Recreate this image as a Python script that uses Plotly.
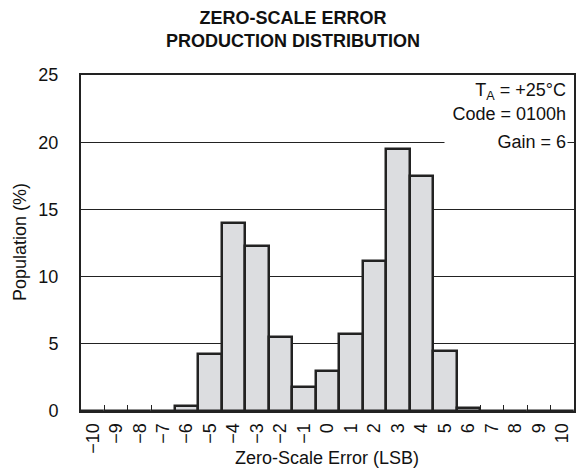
import plotly.graph_objects as go

errors = list(range(-10, 11))
population = [0, 0, 0, 0, 0.4, 4.25, 14.0, 12.3, 5.5, 1.75, 3.0, 5.75, 11.15, 19.5, 17.45, 4.5, 0.2, 0, 0, 0, 0]
tick_text = [("\u2212" + str(-v)) if v < 0 else str(v) for v in errors]
y_ticks = [0, 5, 10, 15, 20, 25]

FONT = "Liberation Sans, Arial, Helvetica, sans-serif"
INK = "#111111"
L, R, T, B = 81, 3, 75, 59
PW, PH = 577 - L - R, 470 - T - B


def px_x(px):
    return (px - L) / PW


def px_y(py):
    return (470 - B - py) / PH


fig = go.Figure()
fig.add_trace(go.Bar(
    x=errors, y=population, width=1,
    marker=dict(color="#dcdde0", line=dict(color="#222222", width=2.5)),
    showlegend=False,
))

fig.update_layout(
    width=577, height=470,
    margin=dict(l=L, r=R, t=T, b=B),
    paper_bgcolor="white", plot_bgcolor="white",
    font=dict(family=FONT, size=18, color=INK),
    bargap=0,
)

fig.update_xaxes(
    range=[-10.5, 10.5], tickmode="array", tickvals=errors, ticktext=tick_text,
    tickangle=-90, ticks="", showgrid=False, zeroline=False, automargin=False,
    showline=True, linecolor="#222222", linewidth=2, mirror=True,
    minor=dict(tickmode="array", tickvals=[v + 0.5 for v in errors[:-1]],
               ticks="inside", ticklen=6, tickcolor="#222222", tickwidth=1, showgrid=False),
    ticklabelstandoff=3,
    tickfont=dict(size=18),
)
fig.update_yaxes(
    range=[0, 25], tickmode="array", tickvals=y_ticks, ticks="",
    showgrid=True, gridcolor="#222222", gridwidth=1, zeroline=False, automargin=False,
    showline=True, linecolor="#222222", linewidth=2, mirror=True,
    ticklabelstandoff=17,
    tickfont=dict(size=18),
)

fig.add_annotation(text="<b>ZERO-SCALE ERROR<br>PRODUCTION DISTRIBUTION</b>",
                   x=px_x(293), xref="paper", y=px_y(29), yref="paper",
                   xanchor="center", yanchor="middle", showarrow=False,
                   font=dict(family=FONT, size=18, color=INK))
fig.add_annotation(text="Zero-Scale Error (LSB)",
                   x=px_x(327), xref="paper", y=px_y(458), yref="paper",
                   xanchor="center", yanchor="middle", showarrow=False,
                   font=dict(family=FONT, size=18, color=INK))
fig.add_annotation(text="Population (%)", textangle=-90,
                   x=px_x(20), xref="paper", y=px_y(242), yref="paper",
                   xanchor="center", yanchor="middle", showarrow=False,
                   font=dict(family=FONT, size=18, color=INK))

notes = ["T<sub>A</sub> = +25°C", "Code = 0100h", "Gain = 6"]
note_y = [23.8, 22.1, 20.0]
for txt, yy in zip(notes, note_y):
    fig.add_annotation(text=txt, x=px_x(568), xref="paper", y=yy, yref="y",
                       xanchor="right", yanchor="middle", showarrow=False,
                       width=120, align="right",
                       bgcolor="white", borderpad=1,
                       font=dict(family=FONT, size=18, color=INK))

fig.write_html("out.html", config={"displayModeBar": False},
               post_script="document.body.style.margin='0';document.body.style.overflow='hidden';")
